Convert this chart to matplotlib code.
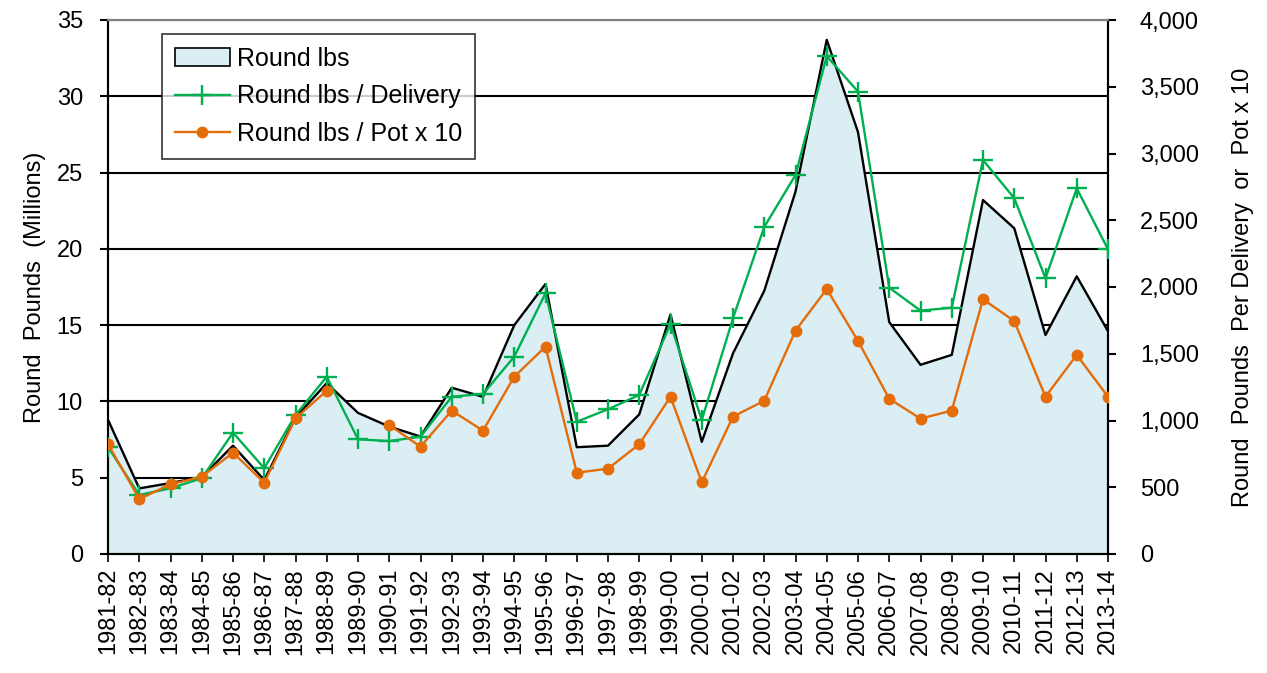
import numpy as np
import matplotlib.pyplot as plt
from matplotlib.patches import Patch
from matplotlib.lines import Line2D

plt.rcParams['font.family'] = ['Liberation Sans', 'DejaVu Sans']

# -----------------------------
# data
# -----------------------------
seasons = ["1981-82", "1982-83", "1983-84", "1984-85", "1985-86", "1986-87",
           "1987-88", "1988-89", "1989-90", "1990-91", "1991-92", "1992-93",
           "1993-94", "1994-95", "1995-96", "1996-97", "1997-98", "1998-99",
           "1999-00", "2000-01", "2001-02", "2002-03", "2003-04", "2004-05",
           "2005-06", "2006-07", "2007-08", "2008-09", "2009-10", "2010-11",
           "2011-12", "2012-13", "2013-14"]

# round lbs, millions (left axis)
round_lbs = [8.8, 4.3, 4.65, 5.05, 7.1, 4.85, 8.95, 11.2, 9.25, 8.35, 7.7, 10.9,
             10.3, 15.0, 17.7, 7.0, 7.1, 9.15, 15.7, 7.35, 13.15, 17.25, 23.75,
             33.7, 27.65, 15.2, 12.4, 13.05, 23.2, 21.35, 14.35, 18.2, 14.6]

# round lbs per delivery (right axis)
lbs_per_delivery = [800, 442, 492, 567, 909, 642, 1041, 1328, 859, 846, 879, 1178,
                    1199, 1478, 1953, 991, 1084, 1191, 1723, 1004, 1766, 2450, 2839,
                    3730, 3463, 1995, 1823, 1845, 2951, 2665, 2065, 2739, 2282]

# round lbs per pot x 10 (right axis), 1989-90 missing
lbs_per_pot10 = [824, 412, 522, 579, 759, 534, 1016, 1223, np.nan, 966, 804, 1074,
                 924, 1328, 1553, 609, 639, 822, 1178, 537, 1029, 1148, 1673,
                 1985, 1596, 1163, 1014, 1074, 1908, 1745, 1178, 1491, 1178]

# -----------------------------
# plot
# -----------------------------
fig = plt.figure(figsize=(12.67, 6.73), dpi=100)
ax = fig.add_axes([108 / 1267, 1 - 554 / 673, 1000 / 1267, 534 / 673])
ax2 = ax.twinx()

x = np.arange(len(seasons))

area_color = "#DAEEF3"
green = "#00B050"
orange = "#E46C0A"

ax.set_axisbelow(True)
ax.yaxis.grid(True, color="black", linewidth=1.5, zorder=0)
ax.fill_between(x, round_lbs, 0, color=area_color, zorder=2, linewidth=0)
ax.plot(x, round_lbs, color="black", linewidth=1.7, zorder=3)

ax2.plot(x, lbs_per_delivery, color=green, linewidth=1.7, marker="+",
         markersize=14, markeredgewidth=1.7, zorder=4)
ax2.plot(x, lbs_per_pot10, color=orange, linewidth=1.7, marker="o",
         markersize=7.5, zorder=5)

ax.set_xlim(0, len(seasons) - 1)
ax.set_ylim(0, 35)
ax2.set_ylim(0, 4000)
ax.set_yticks(np.arange(0, 36, 5))
ax2.set_yticks(np.arange(0, 4001, 500))
ax2.set_yticklabels([f"{v:,}" for v in range(0, 4001, 500)])

ax.set_xticks(x)
ax.set_xticklabels(seasons, rotation=90, fontsize=17)
ax.tick_params(axis="y", labelsize=17, direction="out", length=6, width=1.5, pad=12)
ax2.tick_params(axis="y", labelsize=17, direction="out", length=6, width=1.5, pad=17)
ax.tick_params(axis="x", direction="out", length=6, width=1.2, pad=4)

ax.set_ylabel("Round  Pounds  (Millions)", fontsize=17, labelpad=8)
ax2.set_ylabel("Round  Pounds  Per Delivery  or  Pot x 10", fontsize=17, labelpad=24)

for a in (ax, ax2):
    for side in ("left", "right", "bottom"):
        a.spines[side].set_linewidth(1.5)
        a.spines[side].set_color("black")
    a.spines["top"].set_color("#808080")
    a.spines["top"].set_linewidth(1.5)

handles = [
    Patch(facecolor=area_color, edgecolor="black", linewidth=1.2, label="Round lbs"),
    Line2D([], [], color=green, linewidth=1.7, marker="+", markersize=14,
           markeredgewidth=1.7, label="Round lbs / Delivery"),
    Line2D([], [], color=orange, linewidth=1.7, marker="o", markersize=7.5,
           label="Round lbs / Pot x 10"),
]
leg = fig.legend(handles=handles, loc="upper left",
                 bbox_to_anchor=(162 / 1267, 1 - 34 / 673), fontsize=18,
                 frameon=True, fancybox=False, edgecolor="black",
                 borderaxespad=0, handlelength=2.2, handletextpad=0.3,
                 labelspacing=0.55, borderpad=0.5)
leg.get_frame().set_linewidth(1.2)
leg.set_zorder(10)

plt.savefig("out.png", dpi=100)
